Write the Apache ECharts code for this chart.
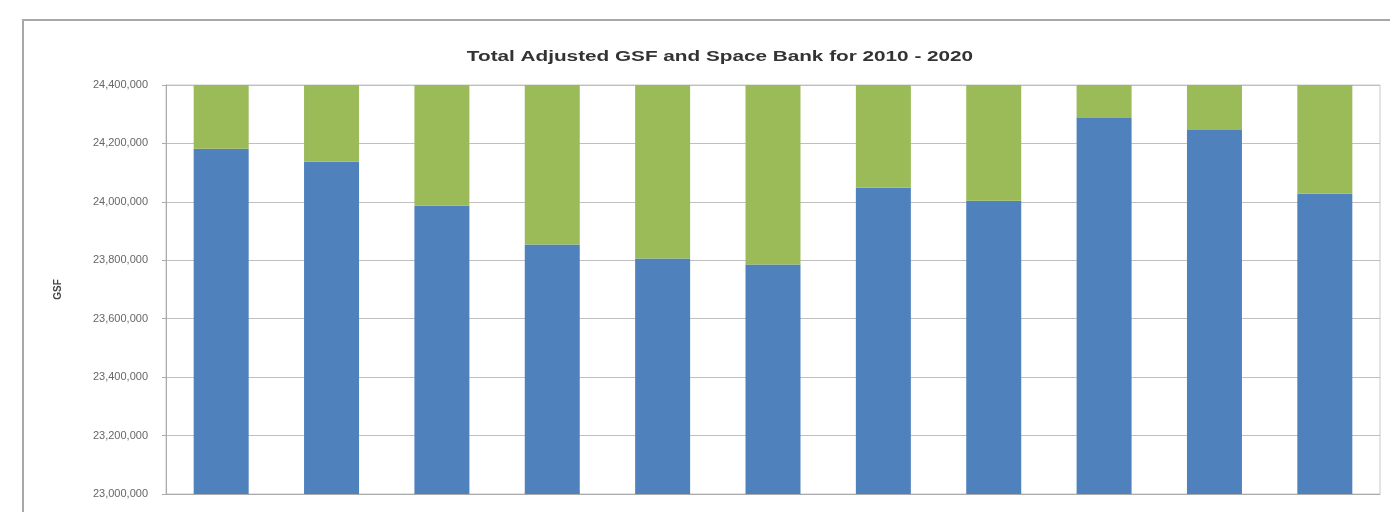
<!DOCTYPE html>
<html>
<head>
<meta charset="utf-8">
<script src="https://cdn.jsdelivr.net/npm/echarts@6/dist/echarts.min.js"></script>
<style>
html,body{margin:0;padding:0;background:#fff;}
#frame{position:absolute;left:22px;top:19px;width:1380px;height:520px;border-left:2px solid #a8a8a8;border-top:2px solid #a8a8a8;}
#chart{position:absolute;left:0;top:0;width:1390px;height:512px;}
</style>
</head>
<body>
<div id="frame"></div>
<div id="chart"></div>
<script>
var years = ['2010','2011','2012','2013','2014','2015','2016','2017','2018','2019','2020'];
var adjustedGSF = [24182000, 24137000, 23987000, 23854000, 23806000, 23786000, 24048000, 24004000, 24287000, 24246000, 24028000];
var spaceBank = [218000, 263000, 413000, 546000, 594000, 614000, 352000, 396000, 113000, 154000, 372000];
var yMin = 23000000, yMax = 24400000, yStep = 200000;
var titleText = 'Total Adjusted GSF and Space Bank for 2010 - 2020';

var chart = echarts.init(document.getElementById('chart'), null, {renderer:'canvas'});
chart.setOption({
  animation:false,
  backgroundColor:'transparent',
  graphic:[{type:'text', x:720, y:57, scaleX:1.48, scaleY:1,
    style:{text:titleText, font:'bold 14px "Liberation Sans"', fill:'#333', align:'center', verticalAlign:'middle'}}],
  grid:{left:166, right:10, top:85, bottom:18, show:true, borderColor:'#c8c8c8', borderWidth:1},
  xAxis:{type:'category', data:years, axisLabel:{show:false}, axisTick:{show:false},
    axisLine:{lineStyle:{color:'#aaa'}}},
  yAxis:{type:'value', min:yMin, max:yMax, interval:yStep, name:'GSF', nameLocation:'middle', nameGap:103,
    nameTextStyle:{fontFamily:'Liberation Sans', fontSize:10, fontWeight:'bold', color:'#444'},
    axisLine:{show:true, lineStyle:{color:'#aaa'}}, axisTick:{show:true, length:4, lineStyle:{color:'#aaa'}},
    axisLabel:{fontFamily:'Liberation Sans', fontSize:11, color:'#666', margin:18,
      formatter:function(v){return v.toLocaleString('en-US');}},
    splitLine:{lineStyle:{color:'#bfbfbf'}}},
  series:[
    {name:'Adjusted GSF', type:'bar', stack:'t', data:adjustedGSF, barWidth:55, itemStyle:{color:'#4f81bd'}},
    {name:'Space Bank', type:'bar', stack:'t', data:spaceBank, barWidth:55, itemStyle:{color:'#9bbb59'}}
  ]
});
</script>
</body>
</html>
